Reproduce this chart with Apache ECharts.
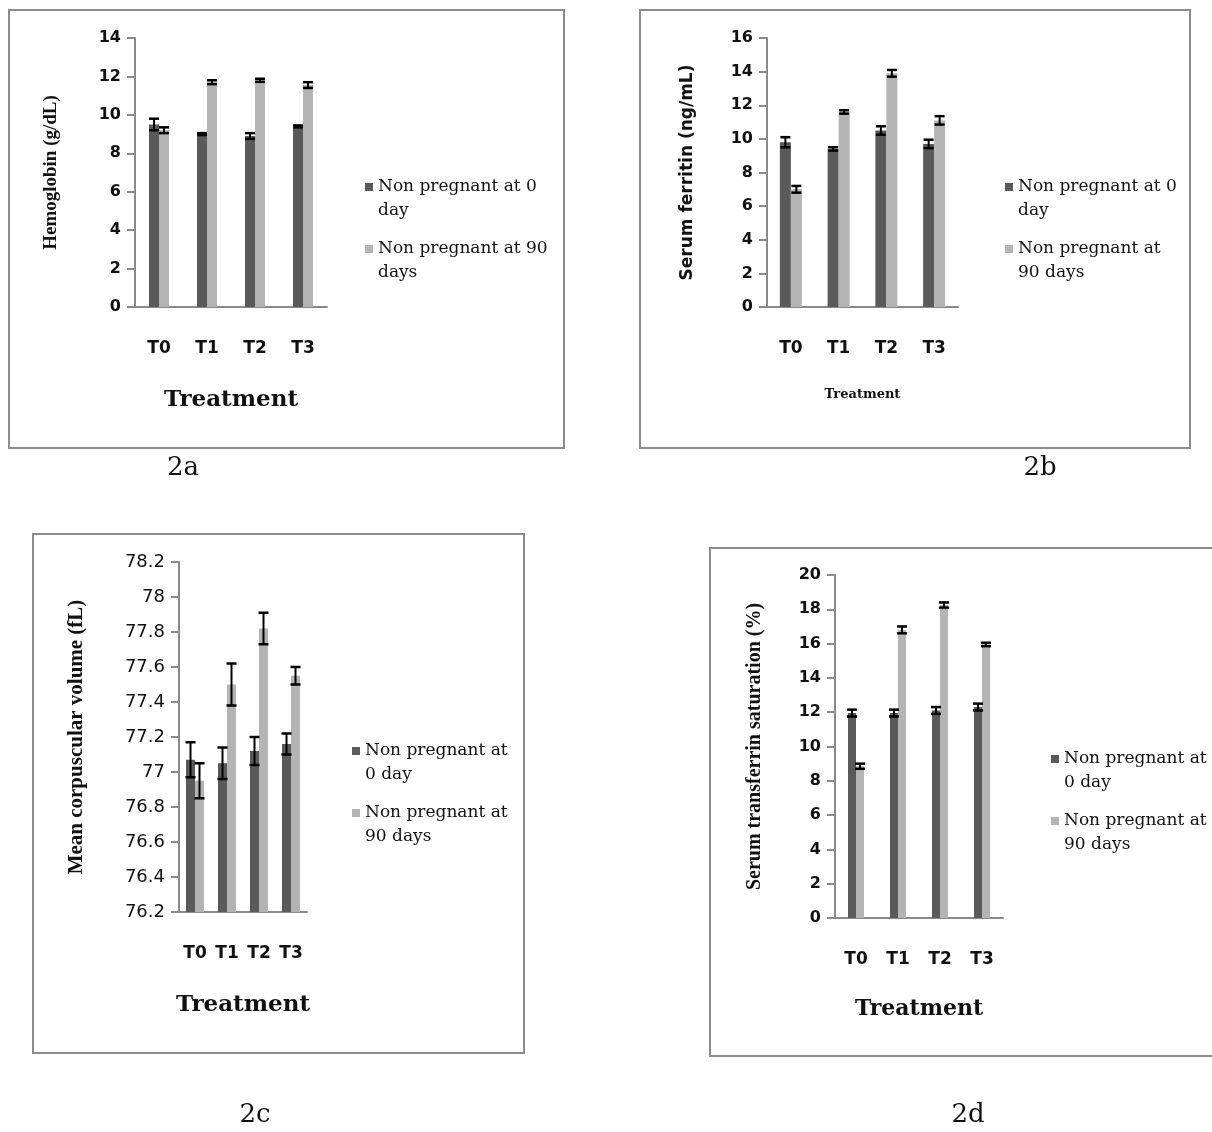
<!DOCTYPE html>
<html><head><meta charset="utf-8">
<script src="https://cdn.jsdelivr.net/npm/echarts@6/dist/echarts.min.js"></script>
<style>html,body{margin:0;padding:0;background:#fff}#c{width:1212px;height:1132px}</style>
</head><body><div id="c"></div>
<script>
const categories = ['T0', 'T1', 'T2', 'T3'];
const seriesNames = ['Non pregnant at 0 day', 'Non pregnant at 90 days'];

const hbDay0 = [9.5, 9.0, 8.9, 9.4];
const hbDay0Err = [0.3, 0.05, 0.15, 0.05];
const hbDay90 = [9.2, 11.7, 11.8, 11.55];
const hbDay90Err = [0.15, 0.1, 0.08, 0.15];

const ferritinDay0 = [9.8, 9.4, 10.5, 9.7];
const ferritinDay0Err = [0.3, 0.1, 0.25, 0.25];
const ferritinDay90 = [7.0, 11.6, 13.9, 11.1];
const ferritinDay90Err = [0.2, 0.1, 0.2, 0.25];

const mcvDay0 = [77.07, 77.05, 77.12, 77.16];
const mcvDay0Err = [0.1, 0.09, 0.08, 0.06];
const mcvDay90 = [76.95, 77.5, 77.82, 77.55];
const mcvDay90Err = [0.1, 0.12, 0.09, 0.05];

const tsatDay0 = [11.95, 11.95, 12.1, 12.3];
const tsatDay0Err = [0.2, 0.2, 0.2, 0.2];
const tsatDay90 = [8.85, 16.8, 18.25, 15.95];
const tsatDay90Err = [0.15, 0.2, 0.15, 0.1];

const yTitles = ['Hemoglobin (g/dL)', 'Serum ferritin (ng/mL)', 'Mean corpuscular volume (fL)', 'Serum transferrin saturation (%)'];
const xTitle = 'Treatment';
const captions = ['2a', '2b', '2c', '2d'];

const DARK = '#5a5a5a', LIGHT = '#b4b4b4', AX = '#8a8a8a';

const panels = [
  {grid:{left:135,top:38,width:192,height:269}, min:0,max:14,interval:2, d0:hbDay0,e0:hbDay0Err,d90:hbDay90,e90:hbDay90Err, bw:10,
   tick:{fontSize:16,fontWeight:'bold'}, yGap:74, yFont:{fontSize:19,fontFamily:'Liberation Serif',fontWeight:'bold'},
   xFont:{fontSize:23,fontFamily:'DejaVu Serif',fontWeight:'bold'}, xGap:82,
   legend:{left:360,top:146}, wrap:['Non pregnant at 0\nday','Non pregnant at 90\ndays'],
   frame:[9,10,555,438], cap:[183,468]},
  {grid:{left:767,top:38,width:191,height:269}, min:0,max:16,interval:2, d0:ferritinDay0,e0:ferritinDay0Err,d90:ferritinDay90,e90:ferritinDay90Err, bw:11,
   tick:{fontSize:16,fontWeight:'bold'}, yGap:71, yFont:{fontSize:17,fontFamily:'DejaVu Sans',fontWeight:'bold'},
   xFont:{fontSize:13,fontFamily:'DejaVu Serif',fontWeight:'bold'}, xGap:81,
   legend:{left:1000,top:146}, wrap:['Non pregnant at 0\nday','Non pregnant at\n90 days'],
   frame:[640,10,550,438], cap:[1040,468]},
  {grid:{left:179,top:562,width:128,height:350}, min:76.2,max:78.2,interval:0.2, d0:mcvDay0,e0:mcvDay0Err,d90:mcvDay90,e90:mcvDay90Err, bw:9,
   tick:{fontSize:18,fontWeight:'normal'}, yGap:92, yFont:{fontSize:21,fontFamily:'Liberation Serif',fontWeight:'bold'},
   xFont:{fontSize:23,fontFamily:'DejaVu Serif',fontWeight:'bold'}, xGap:82,
   legend:{left:347,top:710}, wrap:['Non pregnant at\n0 day','Non pregnant at\n90 days'],
   frame:[33,534,491,519], cap:[255,1115]},
  {grid:{left:835,top:575,width:168,height:343}, min:0,max:20,interval:2, d0:tsatDay0,e0:tsatDay0Err,d90:tsatDay90,e90:tsatDay90Err, bw:8,
   tick:{fontSize:16,fontWeight:'bold'}, yGap:70, yFont:{fontSize:20,fontFamily:'Liberation Serif',fontWeight:'bold'},
   xFont:{fontSize:22,fontFamily:'DejaVu Serif',fontWeight:'bold'}, xGap:80,
   legend:{left:1046,top:718}, wrap:['Non pregnant at\n0 day','Non pregnant at\n90 days'],
   frame:[710,548,520,508], cap:[968,1115]}
];

function errSeries(idx, means, errs, side, bw) {
  return {
    type: 'custom', xAxisIndex: idx, yAxisIndex: idx, z: 5, silent: true,
    encode: {x: 0, y: 1},
    data: means.map((m, i) => [i, m, errs[i]]),
    renderItem: function (params, api) {
      const i = api.value(0), m = api.value(1), e = api.value(2);
      const top = api.coord([i, m + e]), bot = api.coord([i, m - e]);
      const x = top[0] + side * bw / 2;
      const cw = 5;
      const st = {stroke: '#000', lineWidth: 2};
      return {type: 'group', children: [
        {type: 'line', shape: {x1: x, y1: top[1], x2: x, y2: bot[1]}, style: st},
        {type: 'line', shape: {x1: x - cw, y1: top[1], x2: x + cw, y2: top[1]}, style: {stroke: '#000', lineWidth: 2.5}},
        {type: 'line', shape: {x1: x - cw, y1: bot[1], x2: x + cw, y2: bot[1]}, style: {stroke: '#000', lineWidth: 2.5}}
      ]};
    }
  };
}

const option = {
  backgroundColor: '#fff',
  animation: false,
  grid: [], xAxis: [], yAxis: [], series: [], legend: [], title: [], graphic: []
};

panels.forEach((p, k) => {
  option.grid.push(Object.assign({}, p.grid));
  option.xAxis.push({
    type: 'category', gridIndex: k, data: categories,
    axisLine: {lineStyle: {color: AX, width: 2}}, axisTick: {show: false},
    axisLabel: {color: '#111', fontSize: 17, fontWeight: 'bold', fontFamily: 'DejaVu Sans', margin: 33},
    name: xTitle, nameLocation: 'middle', nameGap: p.xGap,
    nameTextStyle: Object.assign({color: '#111'}, p.xFont)
  });
  option.yAxis.push({
    type: 'value', gridIndex: k, min: p.min, max: p.max, interval: p.interval,
    axisLine: {show: true, lineStyle: {color: AX, width: 2}},
    axisTick: {show: true, length: 8, lineStyle: {color: AX, width: 2}},
    splitLine: {show: false},
    axisLabel: Object.assign({color: '#111', fontFamily: 'DejaVu Sans', margin: 14}, p.tick),
    name: yTitles[k], nameLocation: 'middle', nameGap: p.yGap, nameRotate: 90,
    nameTextStyle: Object.assign({color: '#111'}, p.yFont)
  });
  option.series.push({
    type: 'bar', name: seriesNames[0], xAxisIndex: k, yAxisIndex: k, data: p.d0,
    barWidth: p.bw, barGap: '0%', itemStyle: {color: DARK}, clip: true
  });
  option.series.push({
    type: 'bar', name: seriesNames[1], xAxisIndex: k, yAxisIndex: k, data: p.d90,
    barWidth: p.bw, barGap: '0%', itemStyle: {color: LIGHT}, clip: true
  });
  option.series.push(errSeries(k, p.d0, p.e0, -1, p.bw));
  option.series.push(errSeries(k, p.d90, p.e90, 1, p.bw));
  const wrap = p.wrap;
  option.legend.push({
    left: p.legend.left, top: p.legend.top, orient: 'vertical',
    data: seriesNames.map(n => ({name: n, icon: 'rect'})),
    itemWidth: 8, itemHeight: 8, itemGap: -10, selectedMode: false,
    formatter: function (name) { return '\n' + wrap[seriesNames.indexOf(name)]; },
    textStyle: {fontFamily: 'DejaVu Serif', fontSize: 17, lineHeight: 24, color: '#111'}
  });
  option.graphic.push({
    type: 'rect', silent: true, z: -1,
    shape: {x: p.frame[0], y: p.frame[1], width: p.frame[2], height: p.frame[3]},
    style: {fill: 'none', stroke: '#8c8c8c', lineWidth: 2}
  });
  option.graphic.push({
    type: 'text', silent: true, x: p.cap[0], y: p.cap[1],
    style: {text: captions[k], fontFamily: 'DejaVu Serif', fontSize: 26, fill: '#111', align: 'center', verticalAlign: 'middle'}
  });
});

const chart = echarts.init(document.getElementById('c'), null, {renderer: 'canvas'});
chart.setOption(option);
</script>
</body></html>
